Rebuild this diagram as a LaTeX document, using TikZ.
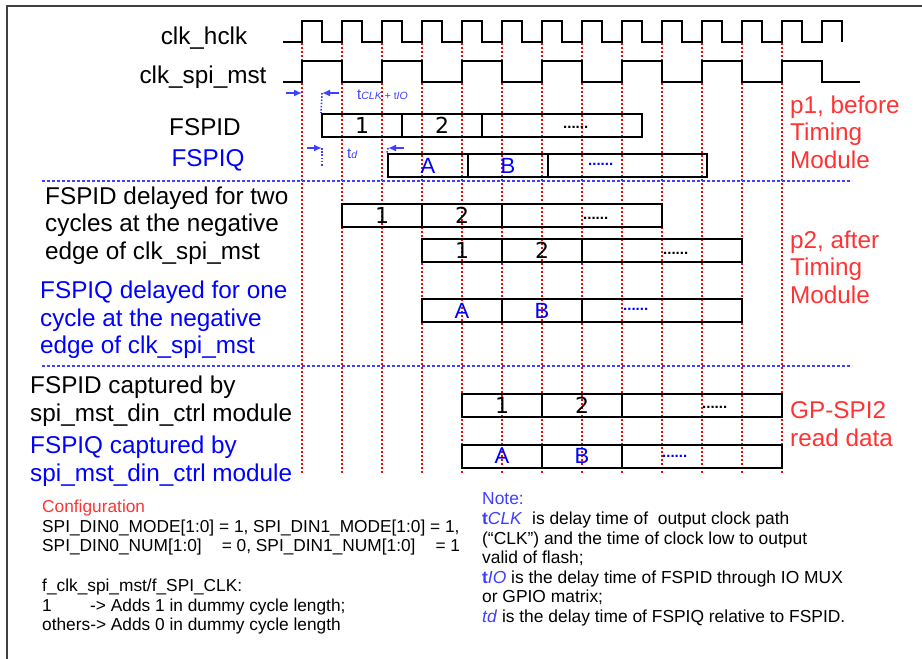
\documentclass[tikz,border=0pt]{standalone}
\usepackage{fontspec}
\setmainfont{Liberation Sans}
\newfontfamily\digitfont{DejaVu Sans}
\usepackage{tikz}
\usetikzlibrary{arrows.meta}
\definecolor{sigred}{HTML}{FF0000}
\definecolor{notered}{HTML}{FF3333}
\definecolor{qblue}{HTML}{0000FF}
\definecolor{noteblue}{HTML}{3F3FFF}
\definecolor{framegray}{HTML}{404040}

\begin{document}
\begin{tikzpicture}[
  x=1pt, y=-1pt,
  wave/.style={line width=2pt},
  refline/.style={sigred, line width=2pt, dash pattern=on 2pt off 2pt},
  sepline/.style={noteblue, line width=1.3pt, dash pattern=on 3pt off 2pt},
  guide/.style={noteblue, line width=1.6pt, dash pattern=on 1.6pt off 1.6pt},
  dly/.style={noteblue, line width=2.2pt, -{Latex[length=8pt,width=7pt]}},
  cell/.style={draw, line width=2pt, inner sep=0pt, minimum height=23pt, font=\fontsize{22}{22}\selectfont},
  ellip/.style={inner sep=0pt, anchor=base west, font=\fontsize{15}{15}\selectfont\bfseries},
  siglabel/.style={inner sep=0pt, font=\fontsize{24.3}{27.6}\selectfont},
  stage/.style={siglabel, align=left, anchor=west},
  notetext/.style={inner sep=0pt, align=left, anchor=north west}
]
\useasboundingbox (0,0) rectangle (922,659);
\draw[framegray, line width=1.5pt] (7,659) -- (7,6) -- (922,6);

% clock edges and section separators
\foreach \k in {0,...,12}
  \draw[refline] (302+40*\k,43) -- (302+40*\k,473);
\draw[sepline] (42,181) -- (852,181);
\draw[sepline] (42,366) -- (852,366);

% clocks
\draw[wave] (283,42) -- (302,42)
  \foreach \k in {0,...,12} { -- ++(0,-21) -- ++(20,0) -- ++(0,21) -- ++(20,0) }
  -- ++(0,-21) -- ++(20,0) -- ++(0,21);
\draw[wave] (283,82) -- (302,82)
  \foreach \k in {0,...,5} { -- ++(0,-21) -- ++(40,0) -- ++(0,21) -- ++(40,0) }
  -- ++(0,-21) -- ++(40,0) -- ++(0,21) -- ++(38,0);

% data rows
\foreach \nm/\xa/\xe/\yc/\la/\lb/\tc/\dx/\dy in {
    pd/322/642/125.5/{\digitfont 1}/{\digitfont 2}/black/563/128,
    pq/388/707/165.5/A/B/qblue/588/165,
    da/342/662/215.5/{\digitfont 1}/{\digitfont 2}/black/583/219,
    db/422/742/250.5/{\digitfont 1}/{\digitfont 2}/black/663/254,
    qa/422/742/310.5/A/B/qblue/623/310,
    ca/462/782/405.5/{\digitfont 1}/{\digitfont 2}/black/702/408,
    cb/462/782/456/A/B/qblue/662/457}
{
  \pgfmathsetmacro\wc{\xe-\xa-160}
  \node[cell, minimum width=80pt, text=\tc] (\nm-a) at (\xa+40,\yc) {\la};
  \node[cell, minimum width=80pt, text=\tc] (\nm-b) at (\xa+120,\yc) {\lb};
  \node[cell, minimum width=\wc pt] (\nm-c) at ({(\xa+160+\xe)/2},\yc) {};
  \node[ellip, text=\tc] (\nm-d) at (\dx,\dy) {......};
}

% signal names
\node[siglabel] (hclk) at (204,38) {clk\_hclk};
\node[siglabel] (spiclk) at (203,77) {clk\_spi\_mst};
\node[siglabel] (fspid) at (205,127) {FSPID};
\node[siglabel, text=qblue] (fspiq) at (208,160) {FSPIQ};
\node[stage] (dlyd) at (45,225.5) {FSPID delayed for two\\cycles at the negative\\edge of clk\_spi\_mst};
\node[stage, text=qblue] (dlyq) at (40,320) {FSPIQ delayed for one\\cycle at the negative\\edge of clk\_spi\_mst};
\node[stage] (capd) at (30,401.5) {FSPID captured by\\spi\_mst\_din\_ctrl module};
\node[stage, text=qblue] (capq) at (30,461.5) {FSPIQ captured by\\spi\_mst\_din\_ctrl module};

% phase names
\node[stage, text=notered] (ph1) at (790,132.3) {p1, before\\Timing\\Module};
\node[stage, text=notered] (ph2) at (790,267.3) {p2, after\\Timing\\Module};
\node[stage, text=notered] (ph3) at (790,424) {GP-SPI2\\read data};

% delays
\coordinate (clkl) at (286,93);
\coordinate (edge0) at (302,93);
\coordinate (clkr) at (339,93);
\coordinate (dv) at (322,93);
\draw[dly] (clkl) -- (edge0);
\draw[dly] (clkr) -- (dv);
\draw[guide] (dv) -- (pd-a.north west);
\node[anchor=base west, inner sep=0pt, text=noteblue] (tclk) at (357,99.3)
  {{\fontsize{15}{15}\selectfont t}{\fontsize{10.5}{10.5}\selectfont\itshape CLK + \upshape t\itshape IO}};
\coordinate (tdl) at (307,148);
\coordinate (tda) at (322,148);
\coordinate (tdb) at (322,167);
\coordinate (tdr) at (404,148);
\coordinate (tdq) at (388,148);
\draw[dly] (tdl) -- (tda);
\draw[guide] (tda) -- (tdb);
\draw[dly] (tdr) -- (tdq);
\draw[guide] (tdq) -- (pq-a.north west);
\node[anchor=base west, inner sep=0pt, text=noteblue] (tdlab) at (347,158.3)
  {{\fontsize{15}{15}\selectfont t}{\fontsize{10.5}{10.5}\selectfont\itshape d}};

% configuration and note
\node[notetext, font=\fontsize{17.3}{19.7}\selectfont] (config) at (42,499.8) {%
  \textcolor{notered}{Configuration}\\
  SPI\_DIN0\_MODE[1:0] = 1, SPI\_DIN1\_MODE[1:0] = 1,\\
  SPI\_DIN0\_NUM[1:0]\hspace{20pt}= 0, SPI\_DIN1\_NUM[1:0]\hspace{20pt}= 1\\
  \mbox{}\\
  f\_clk\_spi\_mst/f\_SPI\_CLK:\\
  \makebox[48pt][l]{1}-> Adds 1 in dummy cycle length;\\
  others-> Adds 0 in dummy cycle length};
\node[notetext, font=\fontsize{17.4}{19.6}\selectfont] (note) at (482,492.7) {%
  \textcolor{noteblue}{Note:}\\
  \textcolor{noteblue}{\textbf{t}\textit{CLK}}\ \ is delay time of\ \ output clock path\\
  (“CLK”) and the time of clock low to output\\
  valid of flash;\\
  \textcolor{noteblue}{\textbf{t}\textit{IO}} is the delay time of FSPID through IO MUX\\
  or GPIO matrix;\\
  \textcolor{noteblue}{\textit{td}} is the delay time of FSPIQ relative to FSPID.};
\end{tikzpicture}
\end{document}
